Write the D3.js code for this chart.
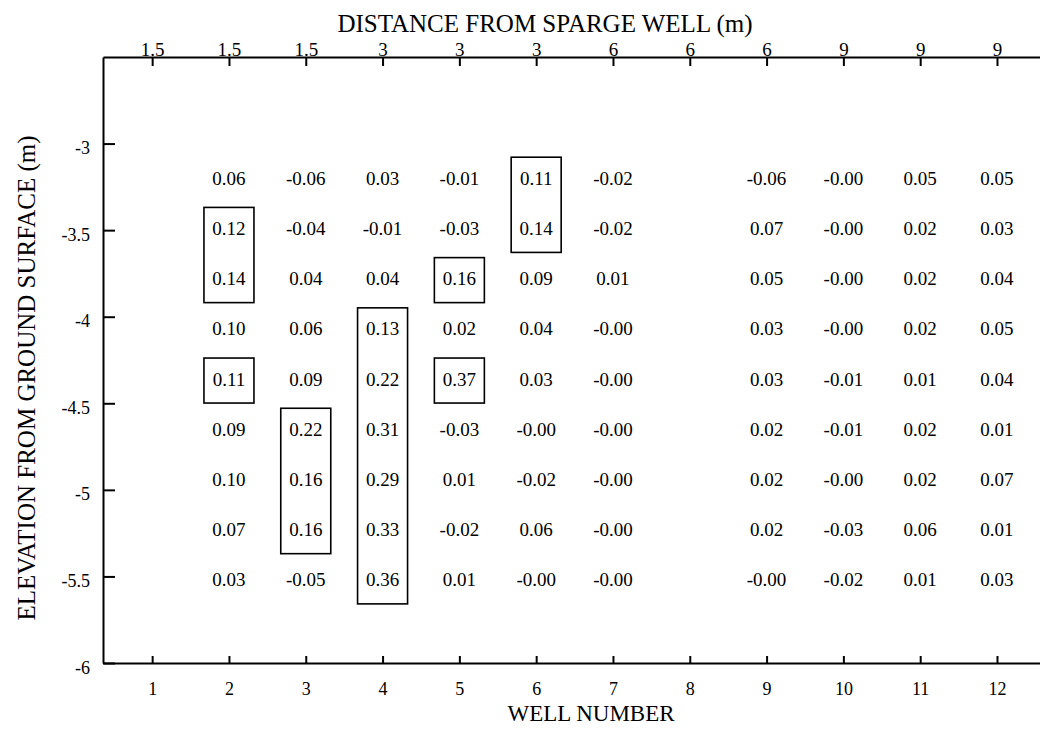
<!DOCTYPE html>
<html>
<head>
<meta charset="utf-8">
<script src="https://cdn.jsdelivr.net/npm/d3@7"></script>
<style>
  html, body { margin: 0; padding: 0; background: #fff; }
  svg { display: block; font-family: "Liberation Serif", "Times New Roman", serif; }
</style>
</head>
<body>
<svg id="chart" width="1040" height="730"></svg>
<script>
// ---- data ----
const wellNumbers = [1, 2, 3, 4, 5, 6, 7, 8, 9, 10, 11, 12];
const distanceLabels = ["1.5", "1.5", "1.5", "3", "3", "3", "6", "6", "6", "9", "9", "9"];
const elevationTicks = [-3, -3.5, -4, -4.5, -5, -5.5, -6];
const rowElevations = [-3.2, -3.49, -3.78, -4.07, -4.36, -4.65, -4.94, -5.23, -5.52];

const well2  = [0.06, 0.12, 0.14, 0.10, 0.11, 0.09, 0.10, 0.07, 0.03];
const well3  = [-0.06, -0.04, 0.04, 0.06, 0.09, 0.22, 0.16, 0.16, -0.05];
const well4  = [0.03, -0.01, 0.04, 0.13, 0.22, 0.31, 0.29, 0.33, 0.36];
const well5  = [-0.01, -0.03, 0.16, 0.02, 0.37, -0.03, 0.01, -0.02, 0.01];
const well6  = [0.11, 0.14, 0.09, 0.04, 0.03, -0.00, -0.02, 0.06, -0.00];
const well7  = [-0.02, -0.02, 0.01, -0.00, -0.00, -0.00, -0.00, -0.00, -0.00];
const well9  = [-0.06, 0.07, 0.05, 0.03, 0.03, 0.02, 0.02, 0.02, -0.00];
const well10 = [-0.00, -0.00, -0.00, -0.00, -0.01, -0.01, -0.00, -0.03, -0.02];
const well11 = [0.05, 0.02, 0.02, 0.02, 0.01, 0.02, 0.02, 0.06, 0.01];
const well12 = [0.05, 0.03, 0.04, 0.05, 0.04, 0.01, 0.07, 0.01, 0.03];

const wellSeries = [
  { well: 2, values: well2 }, { well: 3, values: well3 }, { well: 4, values: well4 },
  { well: 5, values: well5 }, { well: 6, values: well6 }, { well: 7, values: well7 },
  { well: 9, values: well9 }, { well: 10, values: well10 }, { well: 11, values: well11 },
  { well: 12, values: well12 }
];

// highlighted groups: well, first row index, last row index
const boxWells = [2, 2, 3, 4, 5, 5, 6];
const boxFirstRow = [1, 4, 5, 3, 2, 4, 0];
const boxLastRow  = [2, 4, 7, 8, 2, 4, 1];

// ---- layout ----
const svg = d3.select("#chart");
const x = d3.scaleLinear().domain([0.36, 12.56]).range([103, 1040]);
const y = d3.scaleLinear().domain([-6, -2.5]).range([663, 57]);

const fmt = v => ((v < 0 || Object.is(v, -0)) ? "-" : "") + Math.abs(v).toFixed(2);

// axes
const axisStyle = g => {
  g.select(".domain").attr("stroke", "#000").attr("stroke-width", 2);
  g.selectAll(".tick line").attr("stroke", "#000").attr("stroke-width", 2);
  g.selectAll(".tick text").attr("fill", "#000").attr("font-family", "Liberation Serif, serif");
};

svg.append("g")
  .attr("transform", `translate(0,${y(-6)})`)
  .call(d3.axisBottom(x).tickValues(wellNumbers).tickFormat(d => String(d))
    .tickSizeInner(-7).tickSizeOuter(0).tickPadding(19))
  .call(axisStyle)
  .call(g => g.selectAll(".tick text").attr("font-size", 18));

svg.append("g")
  .attr("transform", `translate(0,${y(-2.5)})`)
  .call(d3.axisTop(x).tickValues(wellNumbers).tickFormat((d, i) => distanceLabels[i])
    .tickSizeInner(-9).tickSizeOuter(0).tickPadding(1))
  .call(axisStyle)
  .call(g => g.selectAll(".tick text").attr("font-size", 19));

svg.append("g")
  .attr("transform", `translate(${x(0.36)},0)`)
  .call(d3.axisLeft(y).tickValues(elevationTicks).tickFormat(d => String(d))
    .tickSizeInner(-12).tickSizeOuter(0).tickPadding(13))
  .call(axisStyle)
  .call(g => g.selectAll(".tick text").attr("font-size", 18).attr("dy", "0.56em"));

// axis titles
svg.append("text")
  .attr("x", 545).attr("y", 32)
  .attr("text-anchor", "middle").attr("font-size", 25)
  .text("DISTANCE FROM SPARGE WELL (m)");

svg.append("text")
  .attr("x", 591).attr("y", 721)
  .attr("text-anchor", "middle").attr("font-size", 23)
  .text("WELL NUMBER");

svg.append("text")
  .attr("transform", `translate(35,${378}) rotate(-90)`)
  .attr("text-anchor", "middle").attr("font-size", 25)
  .text("ELEVATION FROM GROUND SURFACE (m)");

// values
const cells = svg.append("g").attr("font-size", 19).attr("text-anchor", "middle");
wellSeries.forEach(s => {
  cells.selectAll(null)
    .data(s.values)
    .enter().append("text")
    .attr("x", x(s.well))
    .attr("y", (d, i) => y(rowElevations[i]))
    .attr("dy", "0.34em")
    .text(d => fmt(d));
});

// boxes
const boxes = boxWells.map((w, i) => ({ well: w, first: boxFirstRow[i], last: boxLastRow[i] }));
svg.append("g").selectAll("rect")
  .data(boxes)
  .enter().append("rect")
  .attr("x", d => x(d.well) - 25)
  .attr("width", 50)
  .attr("y", d => y(rowElevations[d.first]) - 21)
  .attr("height", d => y(rowElevations[d.last]) - y(rowElevations[d.first]) + 45)
  .attr("fill", "none")
  .attr("stroke", "#000")
  .attr("stroke-width", 1.6);
</script>
</body>
</html>
